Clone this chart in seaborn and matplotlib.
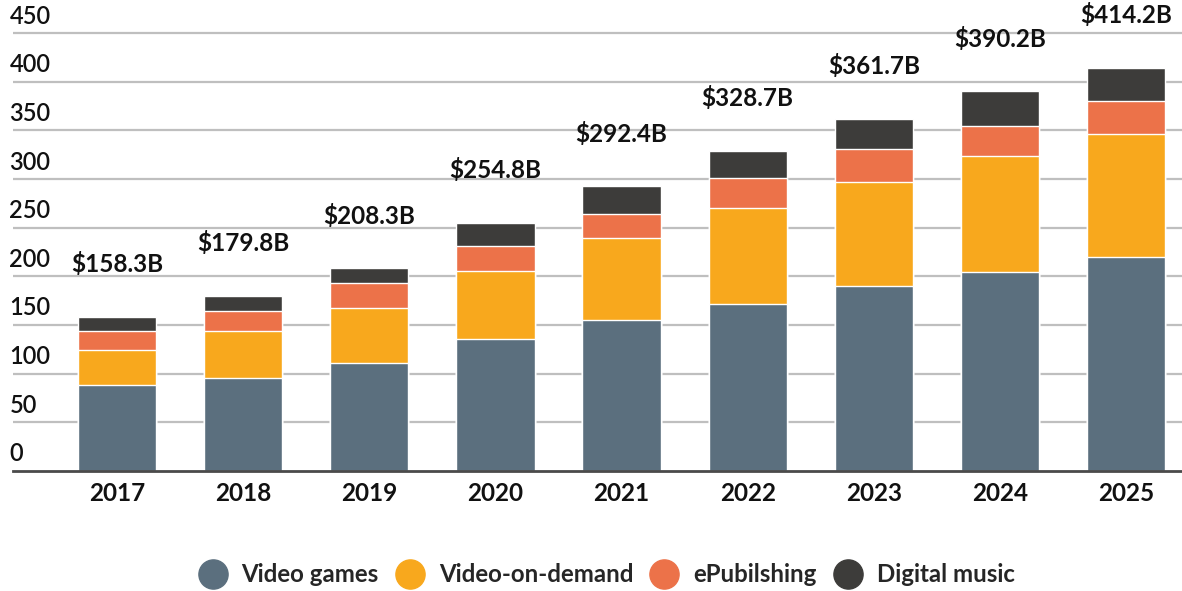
import matplotlib
matplotlib.use("Agg")
import matplotlib.pyplot as plt
from matplotlib.lines import Line2D
import seaborn as sns
import pandas as pd

sns.set_style("white")
plt.rcParams['font.family'] = ['Lato', 'DejaVu Sans']

# Data (USD billions)
years = ["2017", "2018", "2019", "2020", "2021", "2022", "2023", "2024", "2025"]
video_games = [88, 96, 111, 135.5, 155, 172, 190.5, 205, 220]
video_on_demand = [36, 47.5, 57, 70, 84, 98, 106, 118.5, 126.5]
epublishing = [19.5, 20.8, 25, 25.7, 24.7, 31, 34, 31, 33.3]
digital_music = [14.8, 15.5, 15.3, 23.6, 28.7, 27.7, 31.2, 35.7, 34.4]
total_labels = ["$158.3B", "$179.8B", "$208.3B", "$254.8B", "$292.4B",
                "$328.7B", "$361.7B", "$390.2B", "$414.2B"]
y_ticks = [0, 50, 100, 150, 200, 250, 300, 350, 400, 450]

segments = ["Video games", "Video-on-demand", "ePubilshing", "Digital music"]
colors = ["#5B6F7E", "#F8A81D", "#EC7249", "#3D3C3A"]

df = pd.DataFrame({"year": years,
                   "Video games": video_games,
                   "Video-on-demand": video_on_demand,
                   "ePubilshing": epublishing,
                   "Digital music": digital_music})

# cumulative heights so each layer can be drawn over the taller one
cum = df[segments].cumsum(axis=1)
cum["year"] = df["year"]

fig = plt.figure(figsize=(11.82, 5.91), dpi=100)
ax = fig.add_axes([0.011, 0.203, 0.989, 0.797])

# draw stacks from top layer down
for seg, col in zip(segments[::-1], colors[::-1]):
    sns.barplot(data=cum, x="year", y=seg, color=col, width=0.62,
                saturation=1, ax=ax, zorder=3)

ax.set_xlim(-0.825, 8.444)
ax.set_ylim(0, 484)
ax.set_xlabel("")
ax.set_ylabel("")

# gridlines
ax.set_yticks(y_ticks)
ax.set_yticklabels([])
ax.tick_params(axis="y", length=0)
for t in y_ticks[1:]:
    ax.axhline(t, color="#BFBFBF", lw=1.6, zorder=1)

# y labels sit above the gridlines on the left
ytrans = ax.get_yaxis_transform()
for t in y_ticks:
    ax.annotate(str(t), xy=(-0.003, t), xycoords=ytrans,
                xytext=(0, 4), textcoords="offset points",
                ha="left", va="bottom", fontsize=17,
                fontweight="semibold", color="#111111")

ax.tick_params(axis="x", length=0, pad=8, labelsize=17.5, labelcolor="#111111")
for lab in ax.get_xticklabels():
    lab.set_fontweight("bold")

for side in ["top", "right", "left"]:
    ax.spines[side].set_visible(False)
ax.spines["bottom"].set_color("#4A4A4A")
ax.spines["bottom"].set_linewidth(2)
ax.spines["bottom"].set_zorder(4)

# totals above bars
totals = cum["Digital music"].tolist()
for i, (tot, lab) in enumerate(zip(totals, total_labels)):
    ax.annotate(lab, xy=(i, tot), xytext=(0, 38), textcoords="offset points",
                ha="center", va="center", fontsize=17.5, fontweight="bold",
                color="#111111", annotation_clip=False)

handles = [Line2D([], [], marker="o", linestyle="", markersize=21,
                  markerfacecolor=c, markeredgecolor=c) for c in colors]
fig.legend(handles, segments, loc="center", bbox_to_anchor=(0.513, 0.028),
           ncol=4, frameon=False, handlelength=1.2, handletextpad=0.6,
           columnspacing=0.7, prop={"size": 17.3, "weight": "bold"})

fig.savefig("out.png", dpi=100)
